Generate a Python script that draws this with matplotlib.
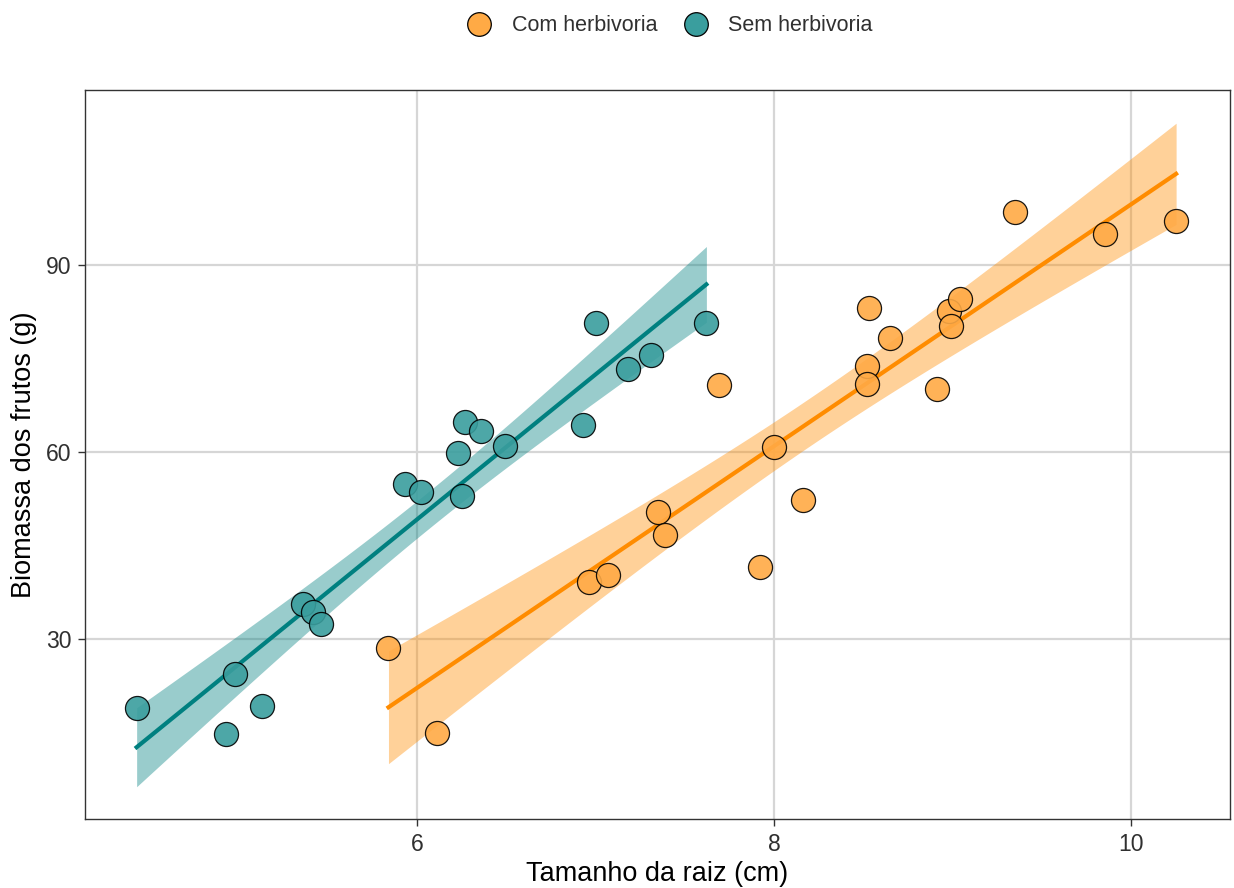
import numpy as np
import matplotlib
matplotlib.use("Agg")
import matplotlib.pyplot as plt
from matplotlib.lines import Line2D

plt.rcParams["font.family"] = ["Liberation Sans", "DejaVu Sans"]

# root length (cm) and fruit biomass (g) per treatment
raiz_sem = [4.43, 4.93, 4.98, 5.13, 5.36, 5.42, 5.46, 5.93, 6.02, 6.23,
            6.25, 6.27, 6.36, 6.49, 6.93, 7.00, 7.18, 7.31, 7.62]
biom_sem = [18.97, 14.72, 24.38, 19.29, 35.7, 34.32, 32.38, 54.9, 53.64, 59.83,
            52.91, 64.84, 63.3, 60.93, 64.41, 80.7, 73.36, 75.57, 80.7]

raiz_com = [5.84, 6.11, 6.96, 7.07, 7.35, 7.39, 7.69, 7.92, 8.00, 8.16, 8.52,
            8.52, 8.53, 8.65, 8.91, 8.98, 8.99, 9.04, 9.35, 9.85, 10.25]
biom_com = [28.53, 14.98, 39.19, 40.3, 50.32, 46.71, 70.73, 41.61, 60.79, 52.27, 73.87,
            70.92, 83.03, 78.25, 70.13, 82.56, 80.2, 84.47, 98.53, 94.99, 97.09]

grupos = ["Com herbivoria", "Sem herbivoria"]
x_ticks = [6, 8, 10]
y_ticks = [30, 60, 90]

# two-sided 95% t quantiles for the residual degrees of freedom
T95 = {17: 2.110, 19: 2.093}


def lm_band(x, y, n_grid=80):
    """OLS fit with 95% confidence band for the mean, like geom_smooth(method='lm')."""
    x = np.asarray(x, float)
    y = np.asarray(y, float)
    n = len(x)
    b1, b0 = np.polyfit(x, y, 1)
    resid = y - (b0 + b1 * x)
    s = np.sqrt(np.sum(resid ** 2) / (n - 2))
    xg = np.linspace(x.min(), x.max(), n_grid)
    yg = b0 + b1 * xg
    se = s * np.sqrt(1 / n + (xg - x.mean()) ** 2 / np.sum((x - x.mean()) ** 2))
    t = T95[n - 2]
    return xg, yg, yg - t * se, yg + t * se


fig = plt.figure(figsize=(12.34, 8.88), dpi=100)
ax = fig.add_axes([0.0689, 0.0777, 0.9279, 0.8209])

series = [
    (raiz_com, biom_com, "#FF8C00", "#FFAA45"),
    (raiz_sem, biom_sem, "#008080", "#3A9E9E"),
]
for x, y, line_col, pt_col in series:
    xg, yg, lo, hi = lm_band(x, y)
    ax.fill_between(xg, lo, hi, color=line_col, alpha=0.4, lw=0, zorder=2)
    ax.plot(xg, yg, color=line_col, lw=3, zorder=3)
    ax.scatter(x, y, s=300, c=pt_col, edgecolors="black", linewidths=0.9,
               alpha=0.9, zorder=4)

ax.set_xlim(4.141, 10.552)
ax.set_ylim(1.14, 118.06)
ax.set_xticks(x_ticks)
ax.set_yticks(y_ticks)
ax.grid(True, color="#D6D6D6", lw=1.6, zorder=0)
ax.set_axisbelow(True)
for sp in ax.spines.values():
    sp.set_color("#333333")
    sp.set_linewidth(1.0)
ax.tick_params(length=5, width=1, color="#333333", labelsize=16.5, pad=5,
               labelcolor="#303030")

ax.set_xlabel("Tamanho da raiz (cm)", fontsize=19.5, labelpad=4)
ax.set_ylabel("Biomassa dos frutos (g)", fontsize=19.5, labelpad=6)

handles = [
    Line2D([], [], ls="", marker="o", markersize=17, markerfacecolor="#FFAA45",
           markeredgecolor="black", markeredgewidth=0.9),
    Line2D([], [], ls="", marker="o", markersize=17, markerfacecolor="#3A9E9E",
           markeredgecolor="black", markeredgewidth=0.9),
]
leg = fig.legend(handles, grupos, loc="center", bbox_to_anchor=(0.539, 0.971), ncol=2,
                 frameon=False, fontsize=15.5, handletextpad=0.5, columnspacing=0.8)
for txt in leg.get_texts():
    txt.set_color("#303030")

fig.savefig("out.png", dpi=100)
